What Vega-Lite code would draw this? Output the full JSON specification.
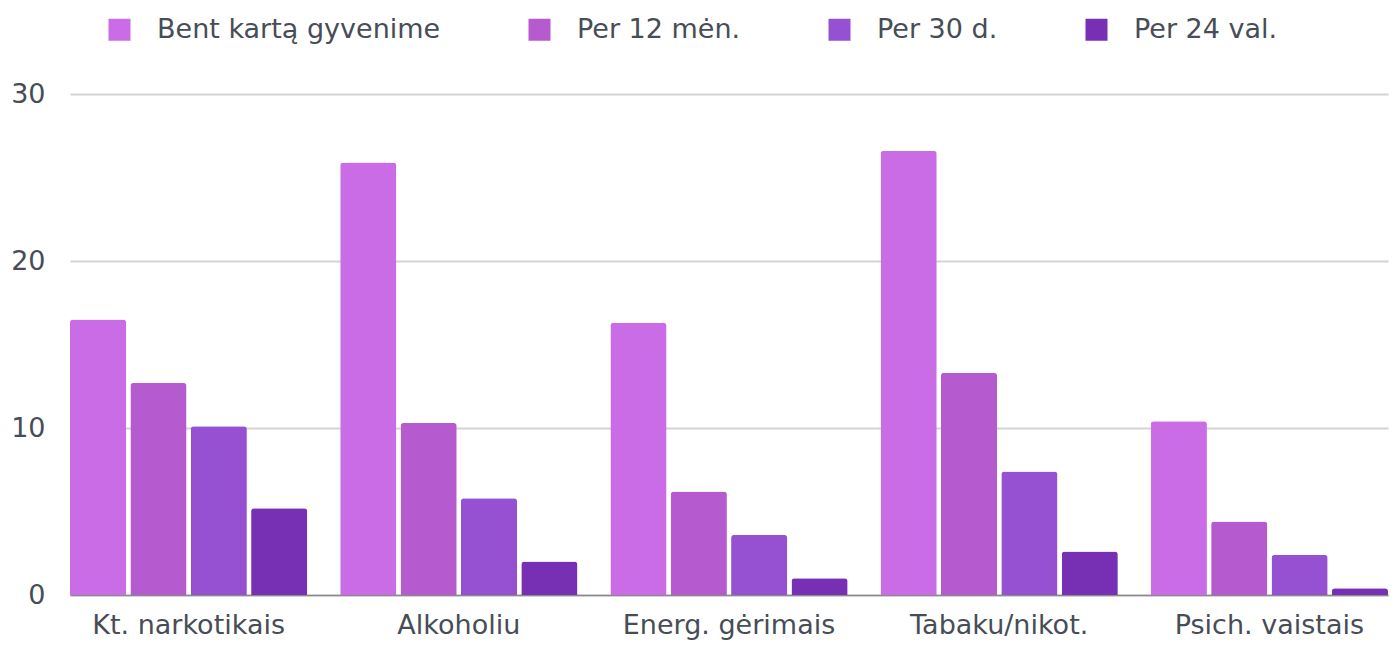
{
  "$schema": "https://vega.github.io/schema/vega-lite/v6.json",
  "width": 1318,
  "height": 501,
  "autosize": {"type": "none"},
  "padding": {"left": 70, "top": 94, "right": 10, "bottom": 50},
  "background": "white",
  "config": {"view": {"stroke": null}, "font": "DejaVu Sans"},
  "data": {
    "values": [
      {"cat": "Kt. narkotikais", "period": "Bent kartą gyvenime", "value": 16.5},
      {"cat": "Kt. narkotikais", "period": "Per 12 mėn.", "value": 12.7},
      {"cat": "Kt. narkotikais", "period": "Per 30 d.", "value": 10.1},
      {"cat": "Kt. narkotikais", "period": "Per 24 val.", "value": 5.2},
      {"cat": "Alkoholiu", "period": "Bent kartą gyvenime", "value": 25.9},
      {"cat": "Alkoholiu", "period": "Per 12 mėn.", "value": 10.3},
      {"cat": "Alkoholiu", "period": "Per 30 d.", "value": 5.8},
      {"cat": "Alkoholiu", "period": "Per 24 val.", "value": 2.0},
      {"cat": "Energ. gėrimais", "period": "Bent kartą gyvenime", "value": 16.3},
      {"cat": "Energ. gėrimais", "period": "Per 12 mėn.", "value": 6.2},
      {"cat": "Energ. gėrimais", "period": "Per 30 d.", "value": 3.6},
      {"cat": "Energ. gėrimais", "period": "Per 24 val.", "value": 1.0},
      {"cat": "Tabaku/nikot.", "period": "Bent kartą gyvenime", "value": 26.6},
      {"cat": "Tabaku/nikot.", "period": "Per 12 mėn.", "value": 13.3},
      {"cat": "Tabaku/nikot.", "period": "Per 30 d.", "value": 7.4},
      {"cat": "Tabaku/nikot.", "period": "Per 24 val.", "value": 2.6},
      {"cat": "Psich. vaistais", "period": "Bent kartą gyvenime", "value": 10.4},
      {"cat": "Psich. vaistais", "period": "Per 12 mėn.", "value": 4.4},
      {"cat": "Psich. vaistais", "period": "Per 30 d.", "value": 2.4},
      {"cat": "Psich. vaistais", "period": "Per 24 val.", "value": 0.4}
    ]
  },
  "mark": {"type": "bar", "cornerRadiusTopLeft": 3, "cornerRadiusTopRight": 3},
  "encoding": {
    "x": {
      "field": "cat", "type": "nominal", "sort": null,
      "scale": {"paddingInner": 0.122, "paddingOuter": 0},
      "axis": {
        "title": null, "labelAngle": 0, "ticks": false,
        "domainColor": "#8a8a8a", "domainWidth": 1.5,
        "labelFont": "DejaVu Sans", "labelFontSize": 27, "labelColor": "#474d56",
        "labelPadding": 17, "labelLimit": 400
      }
    },
    "xOffset": {
      "field": "period", "type": "nominal", "sort": ["Bent kartą gyvenime", "Per 12 mėn.", "Per 30 d.", "Per 24 val."],
      "scale": {"paddingInner": 0.07, "paddingOuter": 0}
    },
    "y": {
      "field": "value", "type": "quantitative",
      "scale": {"domain": [0, 30]},
      "axis": {
        "title": null, "values": [0, 10, 20, 30], "domain": false, "ticks": false,
        "gridColor": "#d3d3d5", "gridWidth": 2,
        "labelFont": "DejaVu Sans", "labelFontSize": 27, "labelColor": "#474d56",
        "labelPadding": 25
      }
    },
    "color": {
      "field": "period", "type": "nominal",
      "sort": ["Bent kartą gyvenime", "Per 12 mėn.", "Per 30 d.", "Per 24 val."],
      "scale": {
        "domain": ["Bent kartą gyvenime", "Per 12 mėn.", "Per 30 d.", "Per 24 val."],
        "range": ["#c96ce6", "#b55bcf", "#9551d1", "#7730b3"]
      },
      "legend": {
        "title": null, "orient": "none", "direction": "horizontal", "columns": 4,
        "legendX": 36, "legendY": -78,
        "symbolType": "square", "symbolSize": 484, "symbolStrokeWidth": 0, "symbolOpacity": 1,
        "labelFont": "DejaVu Sans", "labelFontSize": 27, "labelColor": "#474d56",
        "labelOffset": 24, "columnPadding": 85, "labelLimit": 400
      }
    }
  }
}
